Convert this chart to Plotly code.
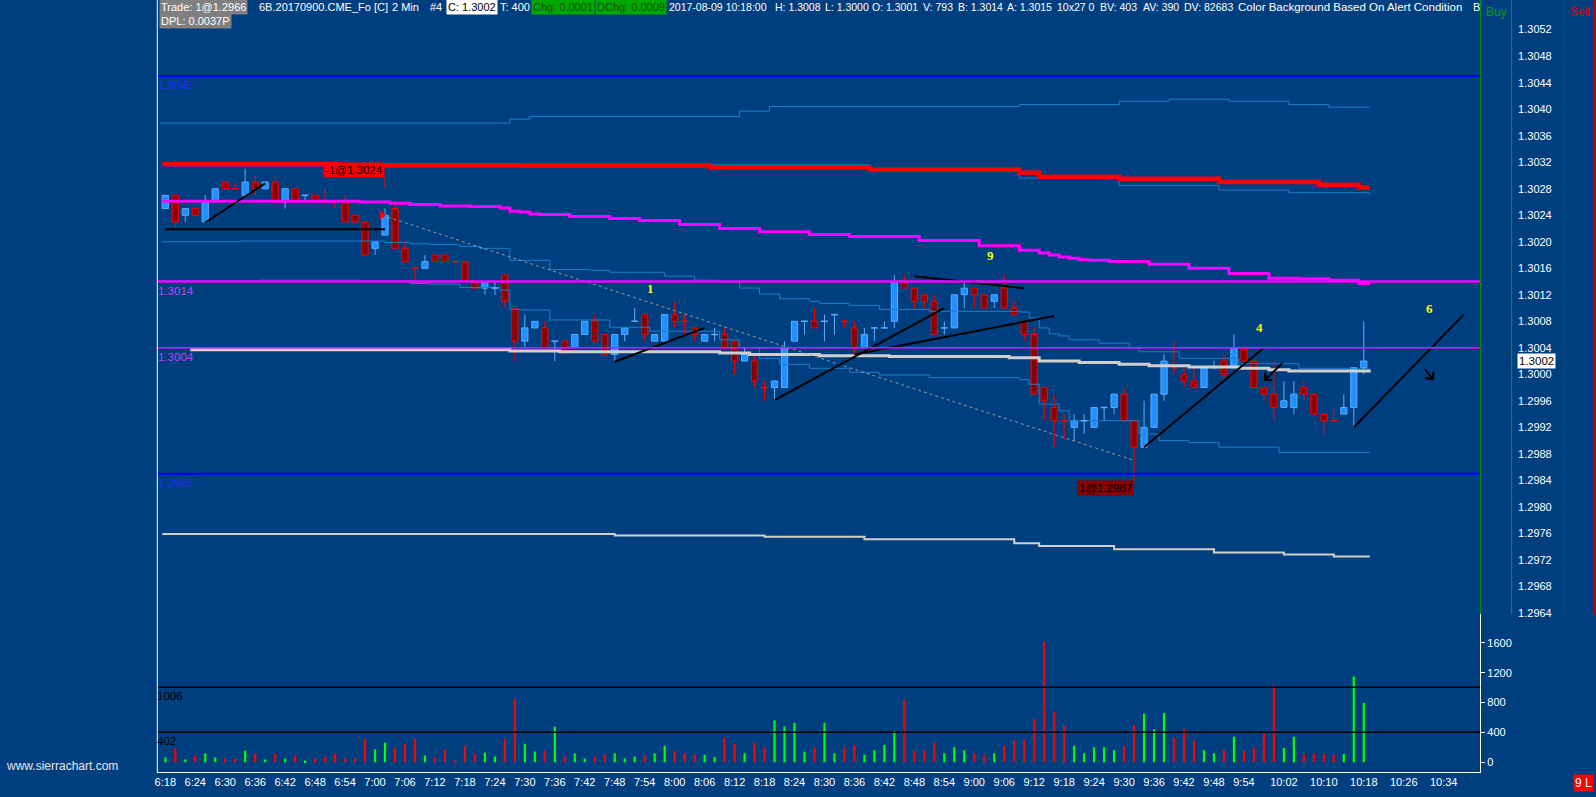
import plotly.graph_objects as go

W, H = 1596, 797
FONT = "Liberation Sans, Arial, sans-serif"
BG = "#003F7F"

# ---------------- data: 2-minute bars, index 0 = 6:18 ----------------
opens = [1.3025, 1.3027, 1.3024, 1.3025, 1.3023, 1.3026, 1.3029, 1.3028, 1.3027, 1.3029,
         1.3028, 1.3029, 1.3026, 1.3028, 1.3027, 1.3027, 1.3026, 1.3026, 1.3026, 1.3024,
         1.3023, 1.3019, 1.3021, 1.3025, 1.3019, 1.3016, 1.3016, 1.3018, 1.3018, 1.3017,
         1.3017, 1.3014, 1.3013, 1.3013, 1.3015, 1.3010, 1.3005, 1.3007, 1.3007, 1.3005,
         1.3005, 1.3004, 1.3006, 1.3008, 1.3006, 1.3003, 1.3006, 1.3008, 1.3009, 1.3005,
         1.3005, 1.3009, 1.3008, 1.3007, 1.3005, 1.3006, 1.3006, 1.3005, 1.3002, 1.3002,
         1.2998, 1.2998, 1.2998, 1.3005, 1.3008, 1.3008, 1.3008, 1.3009, 1.3008, 1.3007,
         1.3004, 1.3007, 1.3007, 1.3008, 1.3014, 1.3013, 1.3012, 1.3011, 1.3007, 1.3007,
         1.3012, 1.3013, 1.3012, 1.3011, 1.3013, 1.3010, 1.3008, 1.3006, 1.2998, 1.2995,
         1.2993, 1.2992, 1.2993, 1.2992, 1.2995, 1.2995, 1.2997, 1.2993, 1.2989, 1.2992,
         1.2997, 1.3001, 1.3000, 1.2999, 1.2998, 1.3001, 1.3002, 1.3001, 1.3004, 1.3002,
         1.2998, 1.2997, 1.2995, 1.2995, 1.2998, 1.2997, 1.2994, 1.2993, 1.2994, 1.2995,
         1.3001]
highs = [1.3027, 1.3027, 1.3025, 1.3025, 1.3027, 1.3028, 1.3029, 1.3029, 1.3031, 1.3030,
         1.3029, 1.3030, 1.3028, 1.3028, 1.3027, 1.3027, 1.3028, 1.3026, 1.3027, 1.3024,
         1.3023, 1.3020, 1.3025, 1.3026, 1.3020, 1.3016, 1.3018, 1.3018, 1.3018, 1.3017,
         1.3017, 1.3014, 1.3014, 1.3014, 1.3015, 1.3010, 1.3009, 1.3008, 1.3008, 1.3005,
         1.3005, 1.3006, 1.3008, 1.3009, 1.3006, 1.3006, 1.3007, 1.3010, 1.3009, 1.3006,
         1.3009, 1.3011, 1.3009, 1.3007, 1.3006, 1.3007, 1.3007, 1.3005, 1.3004, 1.3003,
         1.2999, 1.2999, 1.3005, 1.3008, 1.3008, 1.3010, 1.3009, 1.3009, 1.3008, 1.3008,
         1.3007, 1.3007, 1.3008, 1.3015, 1.3015, 1.3013, 1.3012, 1.3012, 1.3008, 1.3012,
         1.3014, 1.3013, 1.3012, 1.3012, 1.3015, 1.3011, 1.3008, 1.3007, 1.2998, 1.2997,
         1.2994, 1.2994, 1.2994, 1.2995, 1.2995, 1.2997, 1.2998, 1.2993, 1.2996, 1.2997,
         1.3003, 1.3005, 1.3001, 1.3001, 1.3001, 1.3002, 1.3003, 1.3006, 1.3004, 1.3002,
         1.2998, 1.3002, 1.2999, 1.2999, 1.2999, 1.2997, 1.2994, 1.2995, 1.2997, 1.3001,
         1.3008]
lows = [1.3025, 1.3022, 1.3023, 1.3024, 1.3023, 1.3026, 1.3028, 1.3028, 1.3027, 1.3027,
        1.3028, 1.3026, 1.3025, 1.3026, 1.3026, 1.3026, 1.3026, 1.3025, 1.3023, 1.3023,
        1.3018, 1.3018, 1.3021, 1.3019, 1.3017, 1.3014, 1.3016, 1.3017, 1.3017, 1.3017,
        1.3014, 1.3013, 1.3012, 1.3012, 1.3010, 1.3002, 1.3004, 1.3007, 1.3004, 1.3002,
        1.3003, 1.3004, 1.3006, 1.3005, 1.3003, 1.3002, 1.3005, 1.3008, 1.3005, 1.3005,
        1.3005, 1.3007, 1.3006, 1.3005, 1.3005, 1.3005, 1.3004, 1.3000, 1.3002, 1.2998,
        1.2996, 1.2996, 1.2998, 1.3005, 1.3006, 1.3007, 1.3005, 1.3006, 1.3007, 1.3003,
        1.3004, 1.3005, 1.3007, 1.3007, 1.3013, 1.3010, 1.3010, 1.3006, 1.3006, 1.3007,
        1.3010, 1.3010, 1.3010, 1.3010, 1.3010, 1.3009, 1.3005, 1.2997, 1.2993, 1.2989,
        1.2990, 1.2990, 1.2991, 1.2992, 1.2993, 1.2994, 1.2993, 1.2987, 1.2989, 1.2992,
        1.2996, 1.3000, 1.2998, 1.2998, 1.2998, 1.3001, 1.2999, 1.3001, 1.3002, 1.2998,
        1.2996, 1.2993, 1.2995, 1.2994, 1.2996, 1.2994, 1.2991, 1.2993, 1.2994, 1.2992,
        1.3000]
closes = [1.3027, 1.3023, 1.3025, 1.3024, 1.3026, 1.3028, 1.3028, 1.3028, 1.3029, 1.3028,
          1.3029, 1.3026, 1.3028, 1.3026, 1.3027, 1.3026, 1.3026, 1.3026, 1.3023, 1.3023,
          1.3018, 1.3020, 1.3024, 1.3019, 1.3017, 1.3016, 1.3017, 1.3017, 1.3017, 1.3017,
          1.3014, 1.3013, 1.3014, 1.3013, 1.3011, 1.3005, 1.3007, 1.3008, 1.3004, 1.3005,
          1.3004, 1.3006, 1.3008, 1.3005, 1.3003, 1.3006, 1.3007, 1.3008, 1.3006, 1.3006,
          1.3009, 1.3008, 1.3008, 1.3006, 1.3006, 1.3006, 1.3004, 1.3002, 1.3003, 1.2999,
          1.2998, 1.2999, 1.3004, 1.3008, 1.3008, 1.3007, 1.3008, 1.3009, 1.3008, 1.3004,
          1.3006, 1.3007, 1.3007, 1.3014, 1.3013, 1.3011, 1.3011, 1.3006, 1.3007, 1.3012,
          1.3013, 1.3012, 1.3010, 1.3012, 1.3010, 1.3009, 1.3006, 1.2997, 1.2996, 1.2993,
          1.2993, 1.2993, 1.2993, 1.2995, 1.2995, 1.2997, 1.2993, 1.2989, 1.2992, 1.2997,
          1.3002, 1.3001, 1.2999, 1.2998, 1.3001, 1.3001, 1.3000, 1.3004, 1.3002, 1.2998,
          1.2997, 1.2995, 1.2996, 1.2997, 1.2997, 1.2994, 1.2993, 1.2993, 1.2995, 1.3001,
          1.3002]
# colour of bars whose open equals close ('u' blue / 'd' red)
doji_dir = {7: 'd', 14: 'u', 16: 'd', 17: 'd', 25: 'd', 29: 'd', 33: 'u', 39: 'u', 47: 'u',
            52: 'd', 55: 'u', 60: 'd', 64: 'u', 66: 'u', 67: 'u', 68: 'd', 71: 'u', 72: 'u',
            78: 'u', 90: 'd', 92: 'u', 94: 'u', 101: 'd', 105: 'u', 117: 'd'}
volumes = [62, 182, 36, 89, 115, 62, 49, 49, 155, 115,
           36, 115, 49, 89, 22, 49, 75, 115, 49, 49,
           315, 169, 262, 195, 249, 315, 89, 62, 169, 22,
           222, 115, 129, 75, 315, 848, 249, 142, 155, 475,
           75, 115, 49, 75, 102, 115, 49, 75, 95, 120,
           220, 150, 120, 100, 100, 70, 330, 250, 120, 260,
           200, 560, 480, 530, 140, 200, 530, 120, 200, 230,
           100, 160, 230, 420, 840, 150, 160, 260, 120, 200,
           160, 120, 100, 120, 220, 290, 300, 580, 1620, 680,
           490, 220, 120, 200, 200, 160, 220, 500, 650, 440,
           660, 330, 450, 290, 160, 120, 160, 340, 150, 200,
           400, 1030, 190, 340, 110, 120, 110, 100, 110, 1150,
           793]

time_labels = ["6:18", "6:24", "6:30", "6:36", "6:42", "6:48", "6:54", "7:00", "7:06", "7:12",
               "7:18", "7:24", "7:30", "7:36", "7:42", "7:48", "7:54", "8:00", "8:06", "8:12",
               "8:18", "8:24", "8:30", "8:36", "8:42", "8:48", "8:54", "9:00", "9:06", "9:12",
               "9:18", "9:24", "9:30", "9:36", "9:42", "9:48", "9:54", "10:02", "10:10", "10:18",
               "10:26", "10:34"]
price_labels = ["1.2964", "1.2968", "1.2972", "1.2976", "1.2980", "1.2984", "1.2988", "1.2992",
                "1.2996", "1.3000", "1.3004", "1.3008", "1.3012", "1.3016", "1.3020", "1.3024",
                "1.3028", "1.3032", "1.3036", "1.3040", "1.3044", "1.3048", "1.3052"]
volume_ticks = [0, 400, 800, 1200, 1600]

# study lines (bar index where a step starts, value)
red_band_x = [-0.3, 17.5, 54.5, 70.5, 85.5, 87.5, 95.5, 105.5, 115.5, 119.5, 120.6]
red_band_y = [1.30317, 1.30315, 1.30312, 1.30309, 1.30304, 1.30298, 1.30295, 1.30290, 1.30286, 1.30282, 1.30282]
upper_outer_x = [-0.5, 34.5, 36.5, 57.5, 60.5, 85.5, 95.5, 100.5, 106.5, 112.5, 116.5, 120.6]
upper_outer_y = [1.30379, 1.30385, 1.30389, 1.30397, 1.30404, 1.30407, 1.30412, 1.30415, 1.30412, 1.30407, 1.30403, 1.30403]
upper_thin_x = [-0.3, 35.5, 70.5, 85.5, 95.5, 105.5, 112.5, 120.6]
upper_thin_y = [1.30318, 1.30316, 1.30310, 1.30296, 1.30285, 1.30278, 1.30274, 1.30271]
magenta_x = [-0.3, 19.5, 22.5, 24.5, 27.5, 30.5, 33.5, 34.5, 35.5, 36.5, 37.5, 40.5, 44.5, 47.5,
             51.5, 55.5, 59.5, 64.5, 68.5, 75.5, 81.5, 85.5, 87.5, 88.5, 89.5, 90.5, 91.5, 92.5,
             94.5, 98.5, 102.5, 106.5, 110.5, 113.5, 116.5, 119.5, 120.6]
magenta_y = [1.30261, 1.30260, 1.30258, 1.30256, 1.30254, 1.30253, 1.30251, 1.30246, 1.30245,
             1.30242, 1.30241, 1.30238, 1.30235, 1.30232, 1.30226, 1.30220, 1.30215, 1.30211,
             1.30208, 1.30202, 1.30194, 1.30187, 1.30183, 1.30180, 1.30177, 1.30175, 1.30173,
             1.30172, 1.30170, 1.30166, 1.30160, 1.30152, 1.30145, 1.30144, 1.30142, 1.30137,
             1.30137]
mid_upper_x = [-0.3, 7.5, 22, 24.5, 26.5, 29.5, 31.5, 34.5, 38.5, 42.5, 44.5, 50, 53, 55.5, 57.5,
               59.5, 61.5, 64.5, 65.5, 68.5, 71.5, 76.5, 85.5, 86.5, 87.5, 88.5, 89.5, 90.5, 93.5,
               96.5, 97.5, 101.5, 107.5, 113.5, 120.6]
mid_upper_y = [1.30200, 1.30201, 1.30199, 1.30197, 1.30196, 1.30193, 1.30190, 1.30172, 1.30158,
               1.30157, 1.30154, 1.30148, 1.30142, 1.30139, 1.30130, 1.30121, 1.30114, 1.30110,
               1.30107, 1.30104, 1.30098, 1.30095, 1.30094, 1.30085, 1.30070, 1.30061, 1.30058,
               1.30052, 1.30047, 1.30040, 1.30034, 1.30024, 1.30016, 1.30009, 1.30009]
mid_lower_x = [-0.3, 9.5, 19.5, 24.5, 26.5, 29.5, 33.5, 34.5, 35.5, 38.5, 44.5, 48.5, 55.5, 57.5,
               59.5, 61.5, 64.5, 68.5, 71.5, 76.5, 85.5, 86.5, 87.5, 89.5, 90.5, 97.5, 99.5, 102.5,
               105.5, 111.5, 120.6]
mid_lower_y = [1.30141, 1.30142, 1.30141, 1.30137, 1.30136, 1.30131, 1.30127, 1.30098, 1.30097,
               1.30082, 1.30071, 1.30065, 1.30052, 1.30040, 1.30024, 1.30015, 1.30009, 1.30003,
               1.29999, 1.29995, 1.29992, 1.29985, 1.29955, 1.29945, 1.29930, 1.29910, 1.29900,
               1.29897, 1.29890, 1.29882, 1.29882]
vwap_x = [2.5, 34.5, 39.5, 55.5, 58.5, 65.5, 72.5, 84.5, 87.5, 91.5, 95.5, 98.5, 102.5, 107.5,
          110.5, 112.5, 120.7]
vwap_y = [1.30037, 1.30035, 1.30034, 1.30032, 1.30030, 1.30028, 1.30027, 1.30025, 1.30020,
          1.30018, 1.30015, 1.30013, 1.30011, 1.30009, 1.30007, 1.30005, 1.30005]
low_band_x = [-0.3, 45, 60, 70, 85, 87.5, 95, 105, 112, 117, 120.6]
low_band_y = [1.29759, 1.29757, 1.29755, 1.29751, 1.29745, 1.29741, 1.29736, 1.29731, 1.29728,
              1.29725, 1.29725]

level_prices = [1.3045, 1.3014, 1.3004, 1.2985]
level_texts = ["1.3045", "1.3014", "1.3004", "1.2985"]
volume_levels = [1006, 402]

# user drawings (bar, price) pairs
trend_lines = [((4, 1.30229), (10, 1.30288)), ((0, 1.30219), (22, 1.30219)),
               ((45, 1.30019), (54, 1.30070)), ((61, 1.29961), (78, 1.30100)),
               ((69, 1.30030), (89, 1.30088)), ((75, 1.30148), (86, 1.30130)),
               ((98, 1.29890), (110, 1.30040)), ((119, 1.29920), (130, 1.30090))]
arrows = [((112, 1.30019), (110, 1.29990)), ((126, 1.30010), (127, 1.29991))]
trade_link = ((21.7, 1.3024), (97, 1.2987))
count_labels = [(48.6, 1.30129, "1"), (82.6, 1.30180, "9"), (109.6, 1.30070, "4"), (126.6, 1.30100, "6")]

# header: (left px, text, text colour, box colour, font size)
header_segments = [(157, "Trade: 1@1.2966", 'white', '#808080', 11),
                   (255, "6B.20170900.CME_Fo [C]", 'white', None, 11),
                   (388, "2 Min", 'white', None, 11),
                   (427, "#4", 'white', None, 11),
                   (445, "C: 1.3002", 'black', 'white', 11),
                   (497, "T: 400", 'white', None, 11),
                   (530, "Chg: 0.0001", '#1d4a1d', '#00A800', 11),
                   (594, "DChg: 0.0009", '#1d4a1d', '#00A800', 11),
                   (666, "2017-08-09 10:18:00", 'white', None, 10.5),
                   (772, "H: 1.3008", 'white', None, 10.5),
                   (822, "L: 1.3000", 'white', None, 10.5),
                   (869, "O: 1.3001", 'white', None, 10.5),
                   (920, "V: 793", 'white', None, 10.5),
                   (955, "B: 1.3014", 'white', None, 10.5),
                   (1004, "A: 1.3015", 'white', None, 10.5),
                   (1054, "10x27 0", 'white', None, 10.5),
                   (1097, "BV: 403", 'white', None, 10.5),
                   (1140, "AV: 390", 'white', None, 10.5),
                   (1181, "DV: 82683", 'white', None, 10.5),
                   (1236, "Color Background Based On Alert Condition", 'white', None, 11.5),
                   (1471, "B", 'white', None, 11)]

# ---------------- helpers ----------------
def fx(p):
    return p / W


def fy(p):
    return 1 - p / H


XR = [-0.85, 131.65]
fig = go.Figure()

dirs = []
for i in range(len(opens)):
    if closes[i] > opens[i]:
        dirs.append('u')
    elif closes[i] < opens[i]:
        dirs.append('d')
    else:
        dirs.append(doji_dir[i])


def step(xs, ys, color, width, dash='solid'):
    fig.add_trace(go.Scatter(x=xs, y=ys, mode='lines', line=dict(color=color, width=width, shape='hv', dash=dash),
                             hoverinfo='skip', xaxis='x', yaxis='y'))


step(upper_outer_x, upper_outer_y, "#1E7DC6", 1)
step(mid_upper_x, mid_upper_y, "#1E7DC6", 1)
step(mid_lower_x, mid_lower_y, "#1E7DC6", 1)
step(upper_thin_x, upper_thin_y, "#1E7DC6", 1)
step(low_band_x, low_band_y, "#D2CFC6", 2)

# candles
styles = {'u': ("#1E90FF", "#5AAEFF"), 'd': ("#8B0000", "#FF0000")}
for d in ('u', 'd'):
    fill, edge = styles[d]
    wx, wy, bx, bh, bb, dx, dy = [], [], [], [], [], [], []
    for i in range(len(opens)):
        if dirs[i] != d:
            continue
        top, bot = max(opens[i], closes[i]), min(opens[i], closes[i])
        if highs[i] > top:
            wx += [i, i, None]; wy += [top, highs[i], None]
        if lows[i] < bot:
            wx += [i, i, None]; wy += [bot, lows[i], None]
        if top > bot:
            bx.append(i); bh.append(top - bot); bb.append(bot)
        else:
            dx += [i - 0.34, i + 0.34, None]; dy += [top, top, None]
    fig.add_trace(go.Bar(x=bx, y=bh, base=bb, width=0.62, xaxis='x', yaxis='y', hoverinfo='skip',
                         marker=dict(color=fill, line=dict(color=edge, width=1))))
    fig.add_trace(go.Scatter(x=wx, y=wy, mode='lines', line=dict(color=edge, width=1), hoverinfo='skip',
                             xaxis='x', yaxis='y'))
    fig.add_trace(go.Scatter(x=dx, y=dy, mode='lines', line=dict(color=edge, width=1.5), hoverinfo='skip',
                             xaxis='x', yaxis='y'))

step(red_band_x, red_band_y, "#FF0000", 4.5)
step(magenta_x, magenta_y, "#FF00FF", 3)
step(vwap_x, vwap_y, "#CFCFCF", 3)

# dotted trade link
fig.add_trace(go.Scatter(x=[trade_link[0][0], trade_link[1][0]], y=[trade_link[0][1], trade_link[1][1]],
                         mode='lines', line=dict(color="#9A9A9A", width=1, dash='dot'), hoverinfo='skip'))
# trend lines
tx, ty = [], []
for (a, b) in trend_lines:
    tx += [a[0], b[0], None]; ty += [a[1], b[1], None]
fig.add_trace(go.Scatter(x=tx, y=ty, mode='lines', line=dict(color="black", width=2), hoverinfo='skip'))

# trade markers
fig.add_trace(go.Scatter(x=[21.7], y=[1.3024], mode='markers', hoverinfo='skip',
                         marker=dict(symbol='triangle-right', size=8, color='#FF0000')))
fig.add_trace(go.Scatter(x=[22, 22, None, 97, 97], y=[1.30299, 1.30281, None, 1.2987, 1.29838],
                         mode='lines', line=dict(color='#FF0000', width=1), hoverinfo='skip'))

# volume
for d, col in (('u', '#00FF00'), ('d', '#FF0000')):
    vx = [i for i in range(len(volumes)) if dirs[i] == d]
    vy = [volumes[i] for i in vx]
    fig.add_trace(go.Bar(x=vx, y=vy, width=0.22, marker=dict(color=col, line=dict(width=0)),
                         xaxis='x2', yaxis='y2', hoverinfo='skip'))


def bar_of(lbl):
    h, m = lbl.split(':')
    return (int(h) * 60 + int(m) - (6 * 60 + 18)) / 2


shapes = []
level_colors = ["#0000FF", "#FF00FF", "#FF00FF", "#0000FF"]
level_widths = [2, 2.5, 1.5, 2]
for p, c, w in zip(level_prices, level_colors, level_widths):
    shapes.append(dict(type='line', xref='paper', yref='y', x0=fx(155), x1=fx(1480), y0=p, y1=p,
                       line=dict(color=c, width=w)))
for v in volume_levels:
    shapes.append(dict(type='line', xref='paper', yref='y2', x0=fx(155), x1=fx(1480), y0=v, y1=v,
                       line=dict(color='black', width=1.5)))
# frame / dom column lines
shapes.append(dict(type='line', xref='paper', yref='paper', x0=fx(155.5), x1=fx(155.5), y0=fy(0), y1=fy(777),
                   line=dict(color='white', width=1)))
for xp, c in ((1480.5, '#00A000'), (1511.5, '#00A000'), (1563.5, '#D00000'), (1594.5, '#D00000')):
    shapes.append(dict(type='line', xref='paper', yref='paper', x0=fx(xp), x1=fx(xp), y0=fy(0), y1=fy(618),
                       line=dict(color=c, width=1)))

ann = []


def text(xp, yp, s, color='white', bg=None, size=11, xanchor='left', family=FONT):
    d = dict(x=xp, y=yp, xref='paper', yref='paper', text=s, showarrow=False,
             xanchor=xanchor, yanchor='middle', font=dict(color=color, size=size, family=family), borderpad=1)
    if bg:
        d['bgcolor'] = bg
    ann.append(d)


for xp, s, c, bg, fs in header_segments:
    text(fx(xp), fy(7.5), s, c, bg, size=fs)
text(fx(157), fy(21.5), "DPL: 0.0037P", 'white', '#808080', size=11)
text(fx(1484), fy(12), "Buy", '#00A000', size=12)
text(fx(1568), fy(12), "Sell", '#E00000', size=12)
text(fx(2), fy(771), "www.sierrachart.com", '#E8E8E8', size=12)
text(fx(1573), fy(788), "9 L", 'white', '#FF0000', size=12)

level_text_colors = ["#2A2AFF", "#C83CF0", "#C83CF0", "#2A2AFF"]
for p, s, c in zip(level_prices, level_texts, level_text_colors):
    ann.append(dict(x=fx(154), y=p, xref='paper', yref='y', text=s, showarrow=False, xanchor='left',
                    yanchor='top', yshift=-1, font=dict(color=c, size=11.5, family=FONT)))
for v in volume_levels:
    ann.append(dict(x=fx(153), y=v, xref='paper', yref='y2', text=str(v), showarrow=False, xanchor='left',
                    yanchor='top', yshift=-1, font=dict(color='black', size=11.5, family=FONT)))

# current price tag on price scale
ann.append(dict(x=fx(1536), y=closes[-1], xref='paper', yref='y', text="%.4f" % closes[-1], showarrow=False,
                xanchor='center', yanchor='middle', bgcolor='white', borderpad=1,
                font=dict(color='black', size=11.5, family=FONT)))

# trade labels
ann.append(dict(x=22, y=1.30308, xref='x', yref='y', text="-1@1.3024", showarrow=False, xanchor='right',
                yanchor='middle', bgcolor='#FF0000', borderpad=1, font=dict(color='black', size=11.5, family=FONT)))
ann.append(dict(x=97, y=1.29829, xref='x', yref='y', text="1@1.2987", showarrow=False, xanchor='right',
                yanchor='middle', bgcolor='#8B0000', borderpad=1, font=dict(color='black', size=11.5, family=FONT)))

for bx_, py_, s in count_labels:
    ann.append(dict(x=bx_, y=py_, xref='x', yref='y', text="<b>%s</b>" % s, showarrow=False,
                    font=dict(color='#FFFF00', size=13, family="Liberation Serif, serif")))

for (tail, head) in arrows:
    ann.append(dict(x=head[0], y=head[1], ax=tail[0], ay=tail[1], xref='x', yref='y', axref='x', ayref='y',
                    text='', showarrow=True, arrowhead=4, arrowsize=1, arrowwidth=2, arrowcolor='black'))

fig.update_layout(
    width=W, height=H, margin=dict(l=0, r=0, t=0, b=0),
    paper_bgcolor=BG, plot_bgcolor=BG, showlegend=False, barmode='overlay',
    font=dict(family=FONT, color='white', size=11),
    xaxis=dict(domain=[fx(155), fx(1480)], range=XR, anchor='y', showgrid=False, zeroline=False,
               showticklabels=False, showline=False, ticks=''),
    yaxis=dict(domain=[fy(618), 1], range=[1.296382, 1.305647], anchor='free', position=fx(1517),
               side='right', tickvals=[float(s) for s in price_labels], ticktext=price_labels,
               showgrid=False, zeroline=False, showline=False, ticks='',
               tickfont=dict(size=11, color='white', family=FONT)),
    xaxis2=dict(domain=[fx(155), fx(1480)], range=XR, anchor='y2', showgrid=False, zeroline=False,
                showline=True, linecolor='white', linewidth=1, ticks='',
                tickvals=[bar_of(t) for t in time_labels], ticktext=time_labels,
                tickfont=dict(size=11, color='white', family=FONT)),
    yaxis2=dict(domain=[fy(777), fy(618)], range=[-133.3, 1986.7], anchor='x2', side='right',
                showline=True, linecolor='white', linewidth=1, ticks='outside', ticklen=4, tickcolor='white',
                tickvals=volume_ticks, showgrid=False, zeroline=False,
                tickfont=dict(size=11, color='white', family=FONT)),
    shapes=shapes, annotations=ann,
)

fig.write_html("out.html", config={'displayModeBar': False},
               post_script="document.body.style.margin='0px';document.body.style.overflow='hidden';")
